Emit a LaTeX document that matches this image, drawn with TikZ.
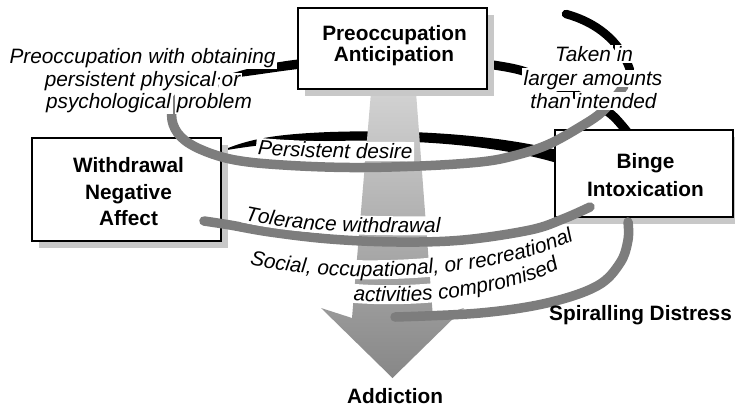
\documentclass[tikz,border=0pt]{standalone}
\usepackage{fontspec}
\setmainfont{Liberation Sans}
\usetikzlibrary{decorations.text,shadows}
\definecolor{ringgray}{RGB}{125,125,125}
\definecolor{shadowgray}{RGB}{200,200,200}
\definecolor{shafttop}{RGB}{210,210,210}
\definecolor{shaftbot}{RGB}{135,135,135}
\tikzset{
  boxshape/.style={draw=black, line width=1.1pt, fill=white, inner sep=0pt,
    drop shadow={shadow xshift=6.5pt, shadow yshift=-6.5pt, fill=shadowgray, opacity=1}},
  ring/.style={draw=ringgray, line width=9.5pt, line cap=round},
  backring/.style={fill=black},
  boldlbl/.style={font=\fontsize{20.8}{24}\selectfont\bfseries, inner sep=0pt, anchor=base},
  itlbl/.style={font=\fontsize{20.8}{24}\selectfont\itshape, inner sep=0pt, anchor=base},
  haloband/.style={draw=white, line width=19pt, shift={(0pt,7pt)}},
}
% a word on a white patch (the halo that cuts the lines behind it)
\newcommand\wb[1]{\hspace*{-1.6pt}{\setlength{\fboxsep}{1.6pt}\colorbox{white}{#1}}\hspace*{-1.6pt}}
% curved text on a white band: #1 text, #2 path, #3 trimming of the band
\newcommand\curvetext[3]{%
  \path[haloband, shorten <=#3, shorten >=#3] #2;
  \path[decorate, decoration={text along path, text color=black,
      text align=center, text={|\itshape\fontsize{20.8}{24}\selectfont|#1}}] #2;
}
\begin{document}
\begin{tikzpicture}[x=1pt,y=-1pt]
\useasboundingbox (0,0) rectangle (735,407);

% ---- back (black) parts of the spiral
\fill[backring] (298,59.5) .. controls (275,62) and (245,68) .. (212,80)
   .. controls (245,77) and (272,72) .. (298,69) -- cycle;
\draw[black, line width=9pt] plot[smooth, tension=0.6] coordinates
   {(486,64) (523,71) (560,88) (590,101) (612,115) (628,133)};
\draw[black, line width=8.5pt, line cap=round] (566,14) .. controls (595,22) and (620,40) .. (630,70);
\fill[backring] (221,151) .. controls (250,138) and (280,134) .. (330,132)
   .. controls (420,129) and (500,136) .. (557,150) -- (557,163)
   .. controls (500,146) and (420,139) .. (330,141)
   .. controls (280,142) and (250,146) .. (221,151) -- cycle;

% ---- the big arrow
\shade[top color=shafttop, bottom color=shaftbot]
  (371,92) -- (416,92) -- (433,318) -- (464,308) -- (392.5,378) -- (321,308) -- (352,318) -- cycle;

% ---- boxes
\node[boxshape, minimum width=189pt, minimum height=81pt] (preBox) at (392.5,48.5) {};
\node[boxshape, minimum width=189pt, minimum height=103pt] (withBox) at (126.5,189.5) {};
\node[boxshape, minimum width=178pt, minimum height=87pt] (bingeBox) at (644,173.5) {};

% ---- front (gray) parts of the spiral
\draw[ring] plot[smooth, tension=0.6] coordinates
  {(214,86) (190,90) (175,102) (172,120) (181,137) (202,150) (235,160) (283,165)
   (350,167.5) (420,166) (480,162) (513,156) (547,145) (580,127) (603,111) (624,86)};
\draw[ring] plot[smooth, tension=0.6] coordinates
  {(204,221) (230,225) (270,232) (330,239) (397,242) (463,240) (530,230) (563,219) (590,207)};
\draw[ring] plot[smooth, tension=0.6] coordinates
  {(628,222) (628,240) (620,263) (597,286) (547,303) (480,313) (395,317)};

% ---- box texts
\node[boldlbl] (pre1) at (394.5,40) {Preoccupation};
\node[boldlbl] (pre2) at (394,61.7) {Anticipation};
\node[boldlbl] (with1) at (128.5,172.3) {Withdrawal};
\node[boldlbl] (with2) at (128.5,199) {Negative};
\node[boldlbl] (with3) at (128.5,225) {Affect};
\node[boldlbl] (binge1) at (645.5,168.3) {Binge};
\node[boldlbl] (binge2) at (645.5,196.5) {Intoxication};
\node[boldlbl] (addict) at (395,403) {Addiction};
\node[boldlbl] (spiral) at (640.5,320.5) {Spiralling Distress};

% ---- italic labels
\node[itlbl] (lp1) at (142.5,63.5) {\wb{Preoccupation} \wb{with} \wb{obtaining}};
\node[itlbl] (lp2) at (142.5,86) {\wb{persistent} \wb{physical} \wb{or}};
\node[itlbl] (lp3) at (149,108.3) {\wb{psychological} \wb{problem}};
\node[itlbl] (lt1) at (594,61.7) {\wb{Taken} \wb{in}};
\node[itlbl] (lt2) at (593,85) {\wb{larger} \wb{amounts}};
\node[itlbl] (lt3) at (593.5,108.3) {\wb{than} \wb{intended}};

\curvetext{Persistent desire}{(250,153.5) .. controls (290,157.5) and (330,158.5) .. (420,158.5)}{6pt}
\curvetext{Tolerance withdrawal}{(241,219.5) .. controls (290,230) and (330,233) .. (444,233)}{2pt}
\curvetext{Social, occupational, or recreational}{(243,263) .. controls (320,283) and (480,285) .. (580,238)}{5pt}
\curvetext{activities compromised}{(349,300) .. controls (420,306) and (510,295) .. (563,267)}{2.5pt}
\end{tikzpicture}
\end{document}
